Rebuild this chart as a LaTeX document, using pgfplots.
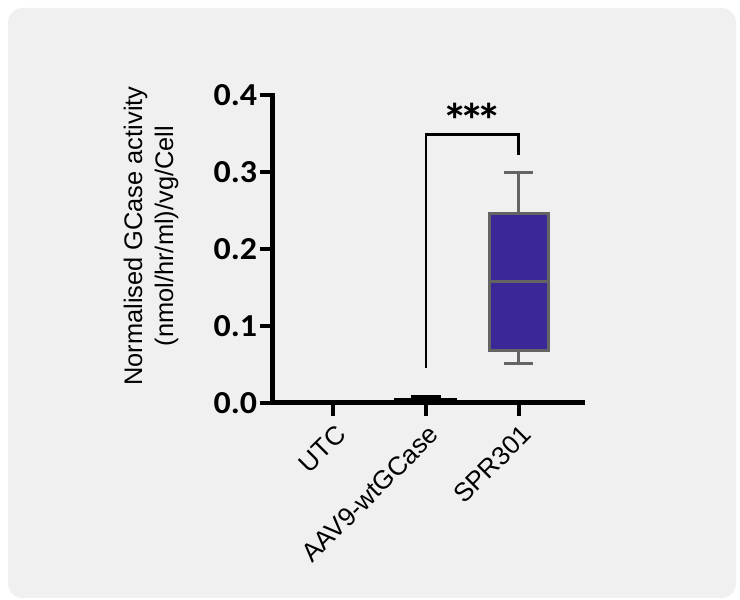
\documentclass[border=0pt]{standalone}
\usepackage{fontspec}
\setmainfont{Liberation Sans}
\newfontfamily\calib{Carlito}[FakeStretch=1.06]
\usepackage{pgfplots}
\pgfplotsset{compat=1.18}
\definecolor{bgcol}{HTML}{F0F0F0}
\definecolor{boxblue}{HTML}{3B2896}
\definecolor{boxgray}{HTML}{646464}
\begin{document}
\begin{tikzpicture}
\useasboundingbox (0,0) rectangle (370pt,300pt);
\fill[white] (0,0) rectangle (370pt,300pt);
\fill[bgcol, rounded corners=7.5pt] (4pt,1pt) rectangle (368pt,296pt);
\begin{axis}[
  at={(136.25pt,98.5pt)}, anchor=south west,
  scale only axis, width=155pt, height=154pt,
  xmin=-0.654, xmax=2.69, ymin=0, ymax=0.4,
  axis x line*=bottom, axis y line*=left,
  axis line style={line width=2.5pt, line cap=rect, -},
  tick align=outside, major tick length=6.5pt,
  tick style={line width=2pt, black},
  xtick={0,1,2}, xticklabels={UTC, AAV9-wtGCase, SPR301},
  xticklabel style={rotate=45, anchor=north east, font=\fontsize{13}{15}\selectfont, inner sep=1pt, yshift=-2pt, xshift=-1pt},
  ytick={0,0.1,0.2,0.3,0.4}, yticklabels={0.0,0.1,0.2,0.3,0.4},
  yticklabel style={font=\calib\bfseries\fontsize{16}{18}\selectfont, inner sep=1pt},
  ylabel={Normalised GCase activity\\(nmol/hr/ml)/vg/Cell},
  ylabel style={at={(axis description cs:-0.392,0.542)}, rotate=0, anchor=center, align=center,
    font=\fontsize{12.7}{15.5}\selectfont},
  clip=false,
  axis on top,
]
% AAV9-wtGCase (tiny box, black)
\addplot[draw=black, fill=black, line width=1pt] coordinates {(0.67,0.001) (1.33,0.001) (1.33,0.0055) (0.67,0.0055)} -- cycle;
\addplot[black, line width=1.3pt] coordinates {(1,0.0055) (1,0.0085)};
\addplot[black, line width=1.5pt] coordinates {(0.835,0.0085) (1.165,0.0085)};
% SPR301
\addplot[boxgray, line width=1.5pt] coordinates {(2,0.0514) (2,0.0687)};
\addplot[boxgray, line width=1.5pt] coordinates {(2,0.2457) (2,0.299)};
\addplot[boxgray, line width=1.5pt] coordinates {(1.8435,0.0514) (2.1565,0.0514)};
\addplot[boxgray, line width=1.5pt] coordinates {(1.8435,0.299) (2.1565,0.299)};
\addplot[draw=boxgray, fill=boxblue, line width=1.5pt] coordinates {(1.682,0.0687) (2.318,0.0687) (2.318,0.2457) (1.682,0.2457)} -- cycle;
\addplot[boxgray, line width=1.5pt] coordinates {(1.682,0.158) (2.318,0.158)};
% significance bracket
\addplot[black, line width=1.3pt, line join=miter] coordinates {(1,0.046) (1,0.349) (2,0.349) (2,0.322)};
\node at (axis cs:1.5,0.367) {\calib\bfseries\fontsize{24}{26}\selectfont *\kern-4pt*\kern-4pt*};
\end{axis}
\end{tikzpicture}
\end{document}
